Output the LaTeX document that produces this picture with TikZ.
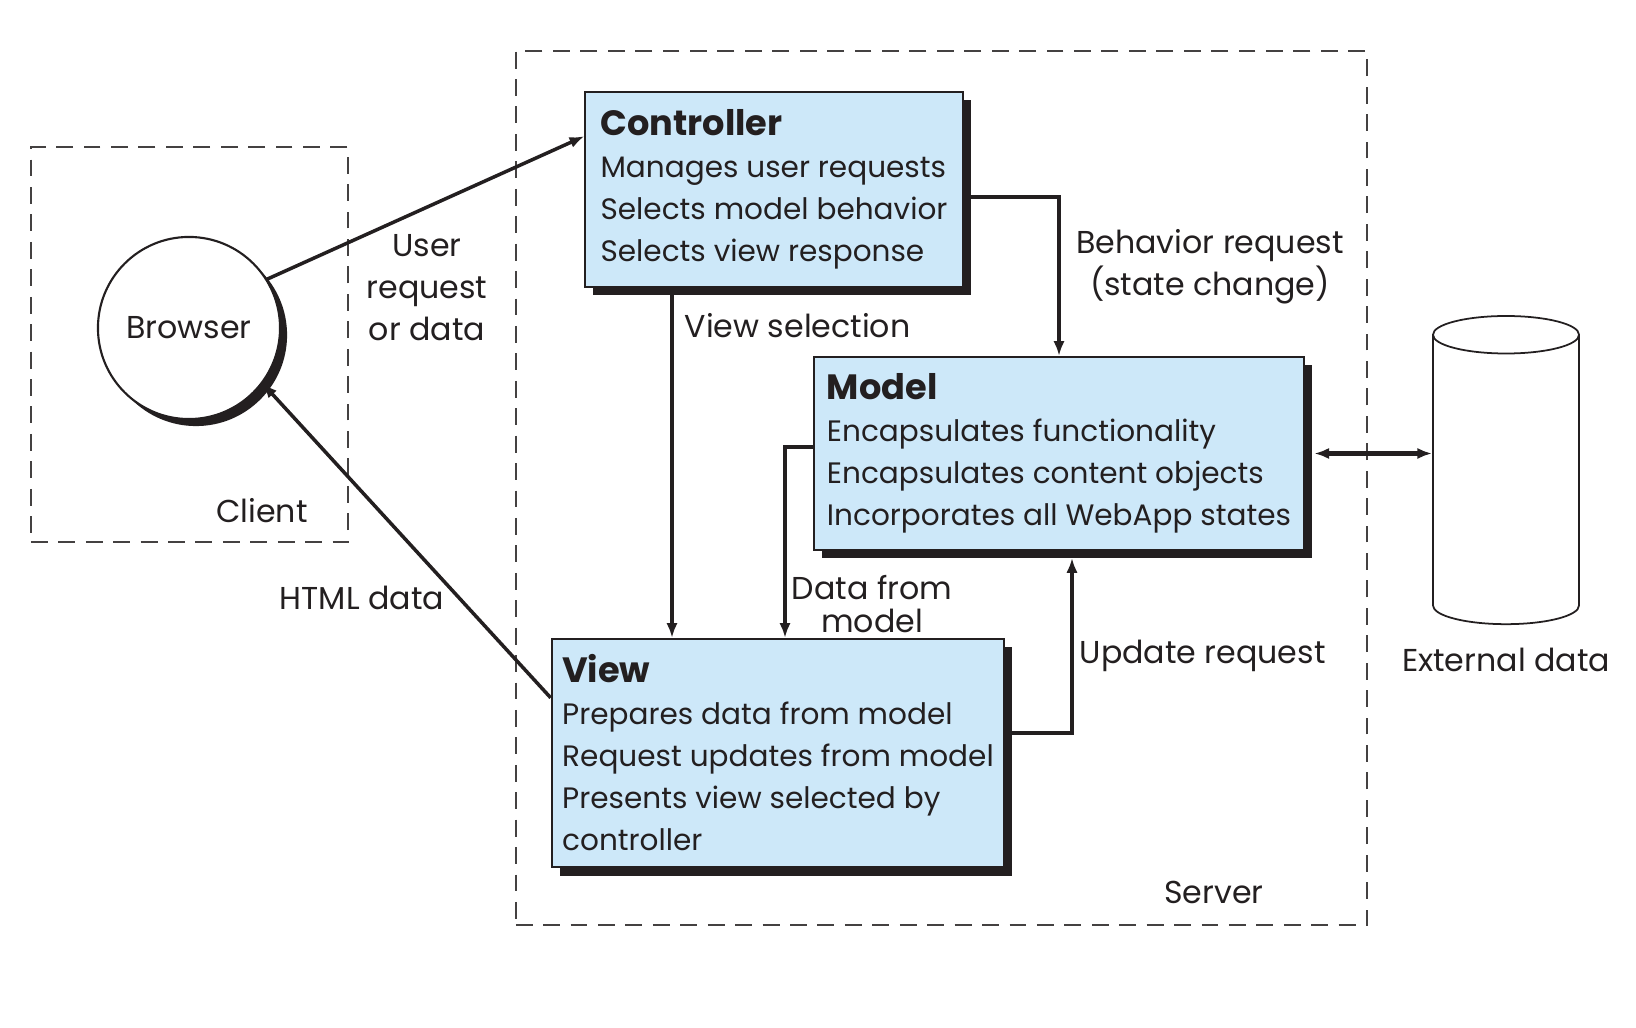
\documentclass[tikz,border=0pt]{standalone}
\usepackage{fontspec}
\setmainfont{Poppins}
\usetikzlibrary{shapes.geometric, arrows.meta, positioning, calc, shadows}
\definecolor{boxblue}{RGB}{205,232,249}
\definecolor{ink}{RGB}{35,31,32}
\newcommand{\parttitle}[1]{{\fontsize{10}{11.95}\selectfont\bfseries #1}}

\begin{document}
\begin{tikzpicture}[x=0.01cm, y=-0.01cm, >={Latex[length=4.2pt,width=3.2pt]},
  font=\fontsize{8.4}{11.95}\selectfont, text=ink,
  part/.style={rectangle, draw=ink, line width=0.6pt, fill=boxblue, align=left,
    inner xsep=3pt, drop shadow={shadow xshift=2.3pt, shadow yshift=-2.4pt, opacity=1, fill=ink}},
  zone/.style={rectangle, draw=ink!85, line width=0.45pt, dash pattern=on 4.8pt off 3pt},
  tag/.style={align=center, inner sep=0pt, font=\fontsize{9}{11.95}\selectfont},
  link/.style={->, draw=ink, line width=1.2pt}]
  \useasboundingbox (0,0) rectangle (1636,1028);

  % client and server zones
  \node[zone, minimum width=3.17cm, minimum height=3.95cm] (client) at (189.5,344.5) {};
  \node[zone, minimum width=8.51cm, minimum height=8.74cm] (server) at (941.5,488) {};

  % parts
  \node[circle, draw=ink, line width=0.6pt, fill=white, minimum size=1.82cm, inner sep=0pt,
    font=\fontsize{9}{11}\selectfont,
    drop shadow={shadow xshift=2pt, shadow yshift=-2pt, opacity=1, fill=ink}] (browser) at (189,328) {Browser};
  \node[part, minimum width=3.77cm, minimum height=1.95cm] (ctrl) at (774,189.5)
    {\parttitle{Controller}\\Manages user requests\\Selects model behavior\\Selects view response};
  \node[part, minimum width=4.90cm, minimum height=1.93cm] (model) at (1059,453.5)
    {\parttitle{Model}\\Encapsulates functionality\\Encapsulates content objects\\Incorporates all WebApp states};
  \node[part, minimum width=4.52cm, minimum height=2.28cm] (view) at (778,753)
    {\parttitle{View}\\Prepares data from model\\Request updates from model\\Presents view selected by\\controller};
  \node[cylinder, shape border rotate=90, aspect=1.6, draw=ink, line width=0.5pt, fill=white,
    minimum width=1.46cm, minimum height=3.08cm] (store) at (1506,485) {};

  % connectors
  \draw[link, line width=1pt] (browser.32) -- ($(ctrl.north west)!0.23!(ctrl.south west)$);
  \draw[link, line width=1pt] ($(view.north west)!0.26!(view.south west)$) -- (browser.-37);
  \draw[link] (672,0 |- ctrl.south) -- (672,0 |- view.north);
  \draw[link] (ctrl.east |- 0,197) -| (model.north);
  \draw[link] (model.west |- 0,447) -| (785,0 |- view.north);
  \draw[link] (view.east |- 0,733) -| (1072,558);
  \draw[link, <->] ([xshift=2.6pt]model.east) -- (store.west |- model.east);

  % labels
  \node[tag] (lbl-user)     at (427,288)  {User\\request\\or data};
  \node[tag] (lbl-html)     at (362,598)  {HTML data};
  \node[tag] (lbl-client)   at (262,511)  {Client};
  \node[tag] (lbl-server)   at (1214,892) {Server};
  \node[tag, anchor=west] (lbl-select) at (684,326) {View selection};
  \node[tag] (lbl-behave)   at (1210,267) {Behavior request\\(state change)};
  \node[tag, font=\fontsize{9}{9.6}\selectfont] (lbl-data) at (872,604) {Data from\\model};
  \node[tag, anchor=west] (lbl-update) at (1079,656) {Update request};
  \node[tag] (lbl-store)    at (1506,660) {External data};
\end{tikzpicture}
\end{document}
